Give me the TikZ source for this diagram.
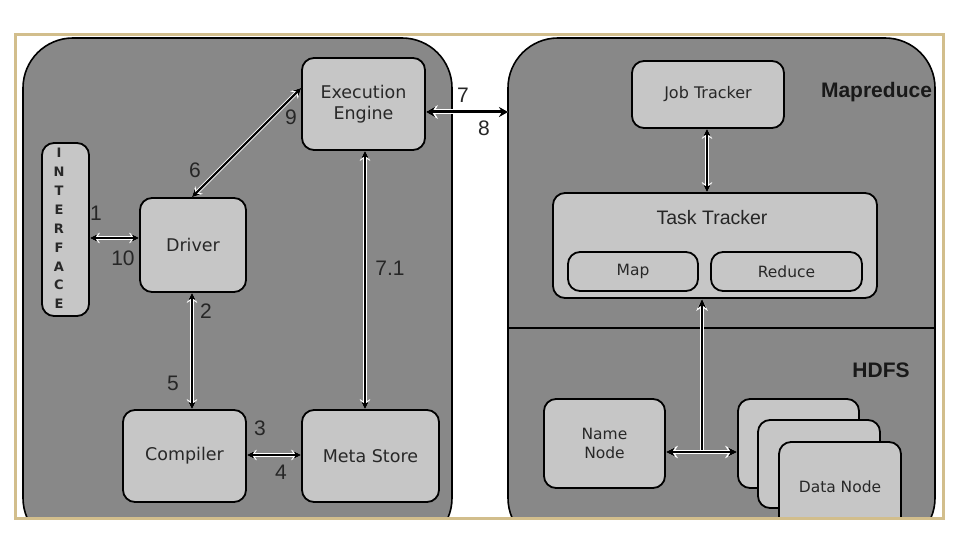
\documentclass[tikz,border=0pt]{standalone}
\usepackage{fontspec}
\setmainfont{DejaVu Sans}
\newfontfamily\numfont{Liberation Sans}
\usetikzlibrary{arrows.meta}
\definecolor{panelgray}{RGB}{136,136,136}
\definecolor{boxgray}{RGB}{198,198,198}
\definecolor{frametan}{RGB}{210,190,140}
\definecolor{txt}{RGB}{40,40,40}
\tikzset{
  panel/.style={draw=black, line width=1.6pt, fill=panelgray, rounded corners=50pt},
  box/.style={draw=black, line width=1.8pt, fill=boxgray, rounded corners=12pt, align=center, inner sep=0pt, text=txt},
  bigtxt/.style={font=\fontsize{17.5}{21}\selectfont},
  smalltxt/.style={font=\fontsize{15.5}{19}\selectfont},
  num/.style={font=\numfont\fontsize{21}{21}\selectfont, text=black!85, inner sep=0pt},
  title/.style={font=\numfont\bfseries\fontsize{21}{21}\selectfont, text=black!90, inner sep=0pt},
  arr/.style={{Stealth[length=7.5pt,width=7.5pt]}-{Stealth[length=7.5pt,width=7.5pt]}, line width=1.5pt, draw=black,
    preaction={draw=white, line width=3.8pt, {Stealth[length=10pt,width=10.5pt]}-{Stealth[length=10pt,width=10.5pt]}}},
  uparr/.style={-{Stealth[length=9pt,width=8pt]}, line width=1.6pt, draw=black,
    preaction={draw=white, line width=4pt, -{Stealth[length=12pt,width=11.5pt]}}},
  bigarr/.style={{Stealth[length=9pt,width=10pt]}-{Stealth[length=9pt,width=10pt]}, line width=3pt, draw=black,
    preaction={draw=white, line width=5pt, {Stealth[length=12pt,width=13.5pt]}-{Stealth[length=12pt,width=13.5pt]}}},
  dnarr/.style={{Stealth[length=9pt,width=9pt]}-{Stealth[length=9pt,width=9pt]}, line width=1.8pt, draw=black,
    preaction={draw=white, line width=4.2pt, {Stealth[length=12pt,width=12.5pt]}-{Stealth[length=12pt,width=12.5pt]}}},
}
\begin{document}
\begin{tikzpicture}[x=1pt,y=-1pt]
\useasboundingbox (0,0) rectangle (976,534);
\fill[white] (0,0) rectangle (976,534);
\begin{scope}
  \clip (15,35) rectangle (943,518);
  \draw[panel] (23,38) rectangle (452,548);
  \draw[panel] (508,38) rectangle (935,548);
  \draw[line width=1.6pt] (508,328) -- (935,328);
  \node[box, smalltxt, minimum width=121, minimum height=89] (data1) at (798.5,443.5) {};
  \node[box, smalltxt, minimum width=122, minimum height=88] (data2) at (819,464) {};
  \node[box, smalltxt, minimum width=122, minimum height=90] (data3) at (840,487) {Data Node};
\end{scope}
\draw[frametan, line width=3pt] (15,35) rectangle (943,518);

% left panel
\node[box, minimum width=47, minimum height=173] (iface) at (65.5,229.5) {};
\node[inner sep=0pt, align=center, font=\bfseries\fontsize{13}{18.9}\selectfont, text=txt] (ifacetxt) at (59,228.5) {I\\N\\T\\E\\R\\F\\A\\C\\E};
\node[box, bigtxt, minimum width=106, minimum height=94] (driver) at (193,245) {Driver};
\node[box, bigtxt, minimum width=123, minimum height=92] (exec) at (363.5,104) {Execution\\Engine};
\node[box, bigtxt, minimum width=123, minimum height=92] (compiler) at (184.5,456) {Compiler};
\node[box, bigtxt, minimum width=137, minimum height=92] (meta) at (370.5,456) {Meta Store};

% right panel
\node[box, font=\fontsize{16}{19}\selectfont, minimum width=152, minimum height=67] (job) at (708,94.5) {Job Tracker};
\node[box, minimum width=324, minimum height=105] (task) at (715,245.5) {};
\node[inner sep=0pt, font=\numfont\fontsize{19.5}{20}\selectfont, text=black!85] (tasktxt) at (712,218) {Task Tracker};
\node[box, smalltxt, minimum width=130, minimum height=39] (map) at (633,271.5) {Map};
\node[box, smalltxt, minimum width=151, minimum height=39] (reduce) at (786.5,271.5) {Reduce};
\node[box, smalltxt, minimum width=121, minimum height=89] (name) at (604.5,443.5) {Name\\Node};
\node[title] (mr) at (876.5,92) {Mapreduce};
\node[title] (hdfs) at (881,370) {HDFS};
\coordinate (mrL) at (508,112);
\coordinate (jn) at (702,452);

% connectors
\draw[arr] (iface.east |- 0,238) -- (driver.west |- 0,238);
\draw[arr, line width=2.2pt] (driver.north -| 192,0) -- (exec.west |- 0,88);
\draw[bigarr] (exec.east |- 0,112) -- (mrL);
\draw[arr] (exec.south -| 365,0) -- (meta.north -| 365,0);
\draw[arr] (driver.south -| 192,0) -- (compiler.north -| 192,0);
\draw[arr] (compiler.east |- 0,455) -- (meta.west |- 0,455);
\draw[arr] (job.south -| 707,0) -- (task.north -| 707,0);
\draw[uparr] (jn) -- (task.south -| jn);
\draw[dnarr] (name.east |- jn) -- (data1.west |- jn);

% numbers
\node[num] (l1) at (96,213) {1};
\node[num] (l10) at (123,258) {10};
\node[num] (l6) at (195,170) {6};
\node[num] (l9) at (291,117) {9};
\node[num] (l7) at (463,95) {7};
\node[num] (l8) at (484,128) {8};
\node[num] (l2) at (206,311) {2};
\node[num] (l5) at (173,383) {5};
\node[num] (l71) at (390,268) {7.1};
\node[num] (l3) at (260,428) {3};
\node[num] (l4) at (281,472) {4};
\end{tikzpicture}
\end{document}
